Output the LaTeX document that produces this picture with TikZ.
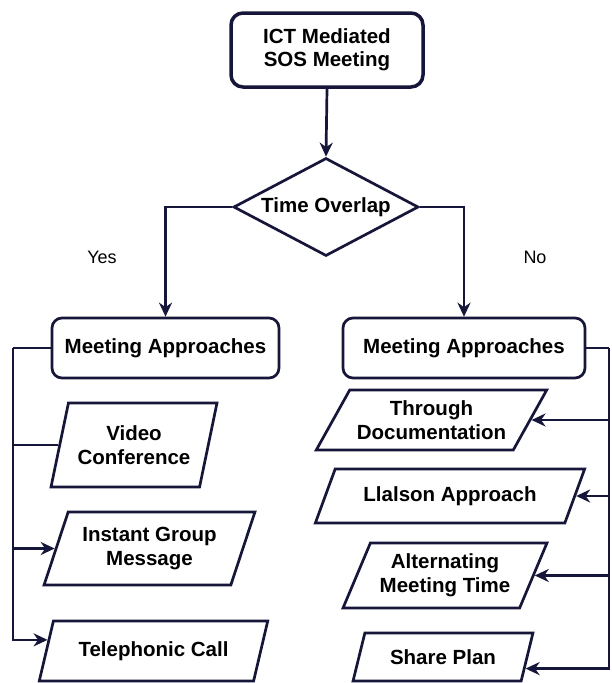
\documentclass[tikz,border=0pt]{standalone}
\usepackage{fontspec}
\setmainfont{Liberation Sans}
\usetikzlibrary{shapes.geometric,arrows.meta}
\definecolor{ink}{HTML}{16163A}
\begin{document}
\begin{tikzpicture}[x=1pt,y=-1pt,
  lbl/.style={font=\bfseries\fontsize{20.5}{24}\selectfont, text=black, align=center, inner sep=0pt},
  small/.style={font=\fontsize{18}{20}\selectfont, text=black, inner sep=0pt},
  startbox/.style={lbl, font=\bfseries\fontsize{20.5}{23}\selectfont, draw=ink, line width=3.5pt, rounded corners=12pt, minimum width=192pt, minimum height=74pt},
  apbox/.style={lbl, draw=ink, line width=2.7pt, rounded corners=10pt, minimum height=60pt},
  decision/.style={lbl, draw=ink, line width=2.7pt, diamond, aspect=1.89, minimum width=185pt, minimum height=98pt},
  para/.style={lbl, draw=ink, line width=2.7pt, trapezium, trapezium stretches=true},
  conn/.style={draw=ink, line width=2.7pt},
  arr/.style={conn, -{Stealth[length=14pt,width=13pt,inset=4.5pt]}}
]
\fill[white] (0,0) rectangle (611,683);
\useasboundingbox (0,0) rectangle (611,683);

\node[startbox] (start) at (327,50) {ICT Mediated\\SOS Meeting};
\node[decision] (dec) at (326,207) {Time Overlap};
\node[apbox, minimum width=227pt] (lbox) at (165.5,348) {Meeting Approaches};
\node[apbox, minimum width=242pt] (rbox) at (464,348) {Meeting Approaches};
\node[small] (yes) at (102,257) {Yes};
\node[small] (no) at (535,257) {No};

\node[para, trapezium left angle=69, trapezium right angle=111, minimum width=166pt, minimum height=84pt] (vc) at (134,445) {Video\\Conference};
\node[para, trapezium left angle=65, trapezium right angle=115, minimum width=211pt, minimum height=73pt] (ig) at (149.5,548.5) {Instant Group\\Message};
\node[para, trapezium left angle=61, trapezium right angle=119, minimum width=229pt, minimum height=60pt] (tc) at (153.5,651) {Telephonic Call};

\node[para, trapezium left angle=52, trapezium right angle=128, minimum width=231pt, minimum height=60pt] (td) at (431.5,420) {Through\\Documentation};
\node[para, trapezium left angle=52, trapezium right angle=128, minimum width=270pt, minimum height=54pt] (la) at (450,496) {Llalson Approach};
\node[para, trapezium left angle=61, trapezium right angle=119, minimum width=204pt, minimum height=65pt] (am) at (445,575.5) {Alternating\\Meeting Time};
\node[para, trapezium left angle=62, trapezium right angle=118, minimum width=180pt, minimum height=48pt] (sp) at (443,657) {Share Plan};

\draw[arr] (start.south) -- (dec.north);
\draw[arr] (dec.west) -| (lbox.north);
\draw[arr] (dec.east) -| (rbox.north);

\coordinate (lbus) at (13,348);
\draw[conn] (lbox.west) -- (lbus);
\draw[conn] (lbus |- vc.west) -- (vc.west);
\draw[arr] (lbus |- ig.west) -- (ig.west);
\draw[arr] (lbus) |- (tc.174);

\coordinate (rbus) at (609,348);
\draw[conn] (rbox.east) -- (rbus);
\draw[arr] (rbus |- td.east) -- (td.east);
\draw[arr] (rbus |- la.east) -- (la.east);
\draw[arr] (rbus |- am.east) -- (am.east);
\draw[arr] (rbus) |- (sp.-8);
\end{tikzpicture}
\end{document}
